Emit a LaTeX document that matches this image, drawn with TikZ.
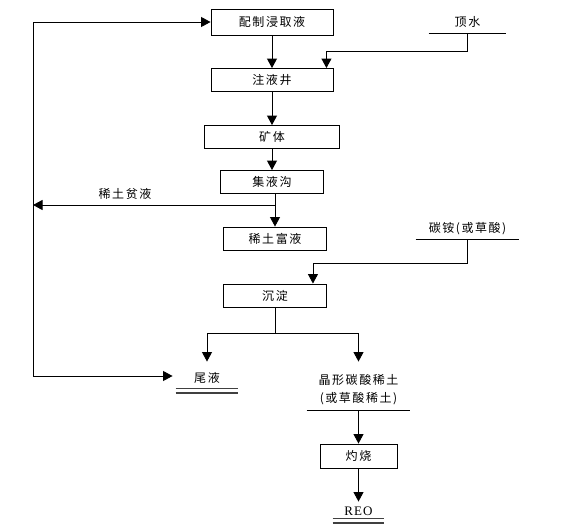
\documentclass[tikz,border=0pt]{standalone}
\usepackage{fontspec}
\setmainfont{Noto Sans CJK SC}[LetterSpace=13]
\newfontfamily\latinfont{Liberation Serif}[LetterSpace=8]
\usetikzlibrary{arrows.meta}

\tikzset{
  box/.style={draw, minimum height=23pt, inner sep=0pt, font=\fontsize{12}{14}\selectfont},
  tag/.style={inner sep=0pt, align=center, font=\fontsize{12}{18}\selectfont},
  flow/.style={-{Triangle[length=9.5pt,width=10pt]}},
  bar/.style={line width=1.2pt, black!75},
}

\begin{document}
\begin{tikzpicture}[x=1pt, y=-1pt, line width=0.9pt]
  \useasboundingbox (0,0) rectangle (565,531);
  % process boxes
  \node[box, minimum width=122pt, minimum height=26pt] (peizhi) at (272,22) {配制浸取液};
  \node[box, minimum width=122pt] (zhuye) at (272,80) {注液井};
  \node[box, minimum width=135pt] (kuangti) at (272,137) {矿体};
  \node[box, minimum width=103pt] (jiye) at (272,182) {集液沟};
  \node[box, minimum width=103pt] (fuye) at (275,238.5) {稀土富液};
  \node[box, minimum width=103pt] (chendian) at (275,295.5) {沉淀};
  \node[box, minimum width=77pt, minimum height=24pt] (zhuoshao) at (358.5,456) {灼烧};
  % inputs and products
  \node[tag, minimum width=77pt, minimum height=23pt] (dingshui) at (467.5,21.5) {顶水};
  \node[tag, minimum width=103pt, minimum height=20pt] (tanan) at (467.5,229) {碳铵(或草酸)};
  \node[tag] (pinye) at (125,194) {稀土贫液};
  \node[tag, minimum width=62pt, minimum height=20pt] (weiye) at (207,378) {尾液};
  \node[tag, minimum width=103pt, minimum height=40pt] (jingxing) at (358.5,390) {晶形碳酸稀土\\(或草酸稀土)};
  \node[tag, minimum width=51pt, minimum height=14pt, font=\latinfont\fontsize{13}{14}\selectfont] (reo) at (358.5,511) {REO};
  \draw (dingshui.south west) -- (dingshui.south east);
  \draw (tanan.south west) -- (tanan.south east);
  \draw (jingxing.south west) -- (jingxing.south east);
  \draw[bar] (weiye.south west) -- (weiye.south east)
    ([yshift=-4.5pt]weiye.south west) -- ([yshift=-4.5pt]weiye.south east);
  \draw[bar] (reo.south west) -- (reo.south east)
    ([yshift=-4.5pt]reo.south west) -- ([yshift=-4.5pt]reo.south east);
  % main flow
  \draw[flow] (peizhi) -- (zhuye);
  \draw[flow] (dingshui.south) -- ++(0,18) -| ([xshift=-7pt]zhuye.north east);
  \draw[flow] (zhuye) -- (kuangti);
  \draw[flow] (kuangti) -- (jiye);
  \draw[flow] (jiye.south -| fuye) -- (fuye);
  \coordinate (pin) at (33,205);
  \draw[flow] (pin -| fuye) -- (pin);
  \coordinate (loop) at (33,376);
  \draw[flow] (loop) |- (peizhi.west);
  \draw[flow, shorten >=3pt] (loop) -- (loop -| weiye.west);
  \draw[flow] (tanan.south) -- ++(0,24) -| ([xshift=-14pt]chendian.north east);
  \coordinate (split) at (275,333);
  \draw (chendian) -- (split);
  \draw[flow, shorten >=6pt] (split) -| (weiye.north);
  \draw[flow, shorten >=8pt] (split) -| (jingxing.north);
  \draw[flow] (jingxing.south) -- (zhuoshao);
  \draw[flow, shorten >=2pt] (zhuoshao) -- (reo.north);
\end{tikzpicture}
\end{document}
